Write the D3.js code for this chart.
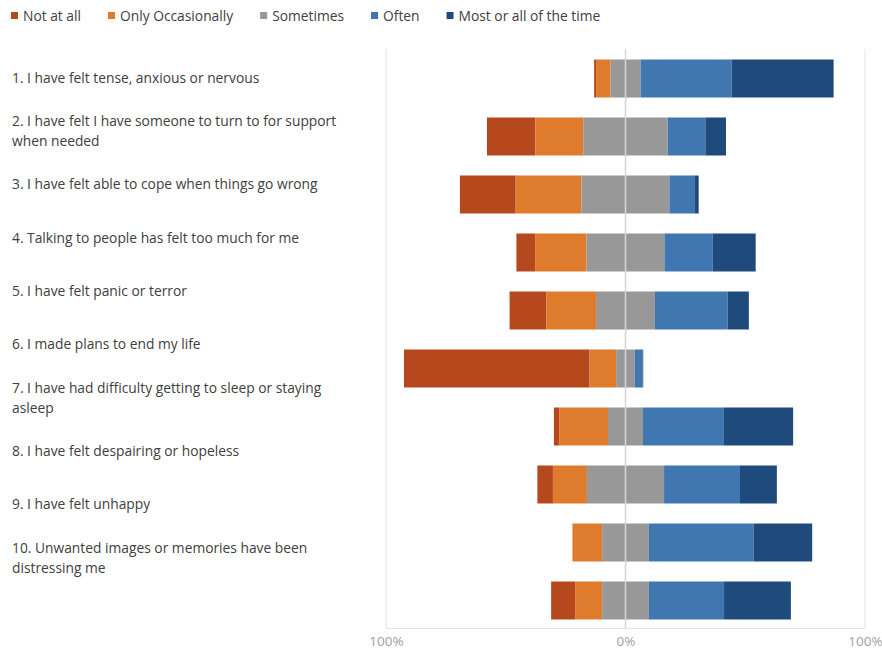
<!DOCTYPE html>
<html><head><meta charset="utf-8">
<script src="https://cdn.jsdelivr.net/npm/d3@7"></script>
<style>body{margin:0;background:#fff}svg{display:block}</style>
</head><body>
<svg id="chart" width="882" height="652"></svg>
<script>
const categories = [
  ["1. I have felt tense, anxious or nervous"],
  ["2. I have felt I have someone to turn to for support", "when needed"],
  ["3. I have felt able to cope when things go wrong"],
  ["4. Talking to people has felt too much for me"],
  ["5. I have felt panic or terror"],
  ["6. I made plans to end my life"],
  ["7. I have had difficulty getting to sleep or staying", "asleep"],
  ["8. I have felt despairing or hopeless"],
  ["9. I have felt unhappy"],
  ["10. Unwanted images or memories have been", "distressing me"]
];
const seriesNames = ["Not at all", "Only Occasionally", "Sometimes", "Often", "Most or all of the time"];
const notAtAll     = [0.8, 20.2, 23.3,  7.8, 15.4, 77.5,  2.2,  6.5,  0.0, 10.0];
const onlyOccas    = [6.0, 20.0, 27.5, 21.5, 20.7, 11.1, 20.4, 14.2, 12.4, 11.3];
const sometimes    = [12.6, 35.3, 36.7, 32.5, 24.6, 7.8, 14.6, 32.2, 19.5, 19.5];
const often        = [38.0, 15.7, 10.4, 20.2, 30.3, 3.2, 33.8, 31.7, 43.8, 31.4];
const mostOfTime   = [42.6, 8.6,  1.8, 17.9,  8.9, 0.3, 28.9, 15.4, 24.4, 27.9];
const tickValues = [-100, 0, 100];
const colors = ["#B5481C", "#DF7B2C", "#989898", "#4077B0", "#1F4A7C"];

const series = [notAtAll, onlyOccas, sometimes, often, mostOfTime];
const svg = d3.select("#chart");
const font = "'Open Sans', sans-serif";
const fs = 13.8;

const x = d3.scaleLinear().domain([-100, 100]).range([386, 865]);
const ids = categories.map((c, i) => i);
const y = d3.scaleBand().domain(ids).range([49.5, 629.5]).paddingInner(0.345).paddingOuter(0.1725);
const yLabel = d3.scalePoint().domain(ids).range([78, 558]);

// frame
svg.append("path").attr("d", `M${x(-100)},49V${y.range()[1]-1}H${x(100)}V49`)
  .attr("fill", "none").attr("stroke", "#e4e4e4").attr("stroke-width", 1);

// segments
const rows = ids.map(i => {
  let start = -(notAtAll[i] + onlyOccas[i] + sometimes[i] / 2);
  return series.map((s, k) => { const seg = {i, k, x0: start, x1: start + s[i]}; start += s[i]; return seg; });
}).flat();

svg.append("g").selectAll("rect").data(rows.filter(d => d.x1 - d.x0 > 0)).join("rect")
  .attr("x", d => x(d.x0)).attr("width", d => x(d.x1) - x(d.x0))
  .attr("y", d => y(d.i)).attr("height", y.bandwidth())
  .attr("fill", d => colors[d.k]);

// zero line
svg.append("line").attr("x1", x(0)).attr("x2", x(0)).attr("y1", 49).attr("y2", y.range()[1] - 1)
  .attr("stroke", "#d6d6d6").attr("stroke-width", 1.5);

// x axis
const ax = svg.append("g").attr("transform", `translate(0,${y.range()[1] - 1})`)
  .call(d3.axisBottom(x).tickValues(tickValues).tickFormat(d => Math.abs(d) + "%").tickSize(0).tickPadding(8));
ax.select(".domain").remove();
ax.selectAll("text").attr("fill", "#a0a0a0").style("font-family", font).style("font-size", "13.5px");

// category labels
const lg = svg.append("g");
categories.forEach((lines, i) => {
  const lh = 19.5;
  const top = yLabel(i) - (lines.length - 1) * lh / 2;
  const t = lg.append("text").attr("font-family", font).attr("font-size", fs).attr("fill", "#404040");
  lines.forEach((ln, j) => t.append("tspan").attr("x", 12).attr("y", top + j * lh).attr("dy", "0.35em").text(ln));
});

// legend
const leg = svg.append("g");
let lx = 11;
seriesNames.forEach((name, k) => {
  leg.append("rect").attr("x", lx).attr("y", 12).attr("width", 7).attr("height", 7).attr("fill", colors[k]);
  const t = leg.append("text").attr("x", lx + 12).attr("y", 16).attr("dy", "0.35em")
    .attr("font-family", font).attr("font-size", fs).attr("fill", "#404040").text(name);
  lx += 12 + t.node().getComputedTextLength() + 27;
});
</script>
</body></html>
